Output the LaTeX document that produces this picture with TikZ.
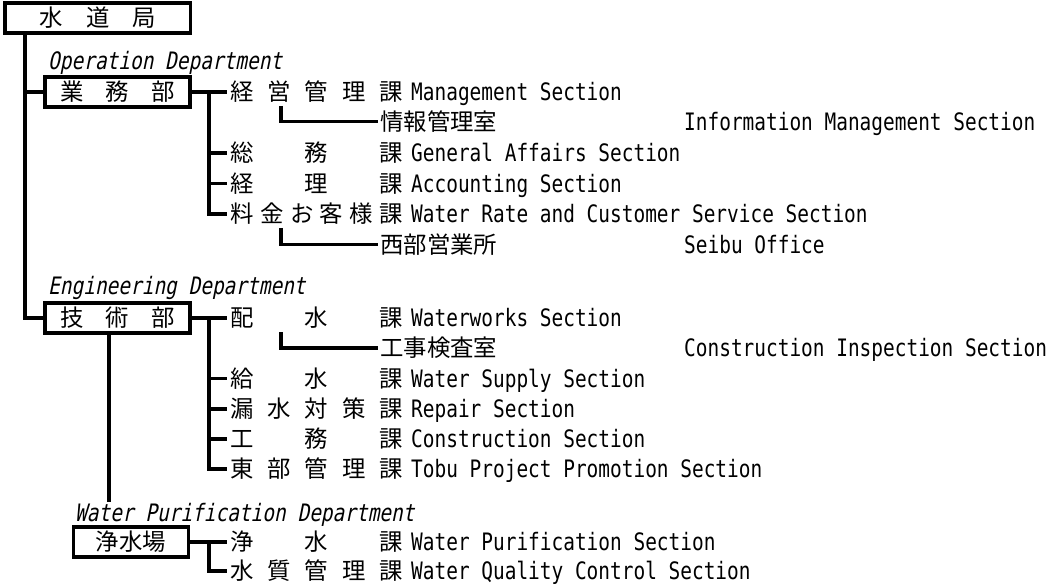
\documentclass[tikz,border=0pt]{standalone}
\usepackage{fontspec}
\newfontfamily\jpfont{Noto Sans CJK JP}
\newfontfamily\enfont{DejaVu Sans Mono}[FakeStretch=0.81]
\newfontfamily\enslfont{DejaVu Sans Mono}[FakeStretch=0.81,FakeSlant=0.2]
\newcommand\jpf{\jpfont\fontsize{23.4pt}{28pt}\selectfont}
\newcommand\enf{\enfont\fontsize{24pt}{28pt}\selectfont}
\newcommand\slf{\enslfont\fontsize{24pt}{28pt}\selectfont}
\newcommand\spread[2]{\makebox[#1][s]{#2}}
\tikzset{
	link/.style={line width=3.2pt},
	deptbox/.style={draw,line width=3.2pt,minimum height=30pt,inner sep=0pt,font=\jpf,text height=20.6pt,text depth=2.8pt},
	sect/.style={anchor=west,inner xsep=3pt,inner ysep=0pt,font=\jpf,text height=20.6pt,text depth=2.8pt},
	engl/.style={anchor=west,inner sep=0pt,font=\enf,text height=20.6pt,text depth=2.8pt},
	dept/.style={anchor=west,inner sep=0pt,font=\slf,text height=20.6pt,text depth=2.8pt},
}
\begin{document}
\begin{tikzpicture}[x=1pt,y=-1pt]
			\useasboundingbox (0,0) rectangle (1053,588);
			% boxes
			\node[deptbox,minimum width=185.5pt] (kyoku) at (97.75,18) {\spread{117pt}{水\hfill 道\hfill 局}};
			\node[deptbox,minimum width=145pt] (gyomu) at (117.5,92) {\spread{115pt}{業\hfill 務\hfill 部}};
			\node[deptbox,minimum width=145pt] (gijutsu) at (117.5,318) {\spread{115pt}{技\hfill 術\hfill 部}};
			\node[deptbox,minimum width=115.5pt] (josuijo) at (131,542) {浄水場};
			% department labels
			\node[dept] (opdept) at (48,61) {Operation Department};
			\node[dept] (engdept) at (48,286) {Engineering Department};
			\node[dept] (wpdept) at (75,513) {Water Purification Department};
			% operation department
			\node[sect] (op1) at (227,92) {\spread{173pt}{経\hfill 営\hfill 管\hfill 理\hfill 課}};
			\node[engl] (op1e) at (411,92) {Management Section};
			\node[sect,inner xsep=2pt] (info) at (378,121.5) {情報管理室};
			\node[engl] (infoe) at (684,121.5) {Information Management Section};
			\node[sect] (op2) at (227,153) {\spread{173pt}{総\hfill 務\hfill 課}};
			\node[engl] (op2e) at (411,153) {General Affairs Section};
			\node[sect] (op3) at (227,183.5) {\spread{173pt}{経\hfill 理\hfill 課}};
			\node[engl] (op3e) at (411,183.5) {Accounting Section};
			\node[sect] (op4) at (227,214) {\spread{173pt}{料\hfill 金\hfill お\hfill 客\hfill 様\hfill 課}};
			\node[engl] (op4e) at (411,214) {Water Rate and Customer Service Section};
			\node[sect,inner xsep=2pt] (seibu) at (378,244.5) {西部営業所};
			\node[engl] (seibue) at (684,244.5) {Seibu Office};
			% engineering department
			\node[sect] (eng1) at (227,318) {\spread{173pt}{配\hfill 水\hfill 課}};
			\node[engl] (eng1e) at (411,318) {Waterworks Section};
			\node[sect,inner xsep=2pt] (koji) at (378,348) {工事検査室};
			\node[engl] (kojie) at (684,348) {Construction Inspection Section};
			\node[sect] (eng2) at (227,378.5) {\spread{173pt}{給\hfill 水\hfill 課}};
			\node[engl] (eng2e) at (411,378.5) {Water Supply Section};
			\node[sect] (eng3) at (227,409) {\spread{173pt}{漏\hfill 水\hfill 対\hfill 策\hfill 課}};
			\node[engl] (eng3e) at (411,409) {Repair Section};
			\node[sect] (eng4) at (227,439) {\spread{173pt}{工\hfill 務\hfill 課}};
			\node[engl] (eng4e) at (411,439) {Construction Section};
			\node[sect] (eng5) at (227,469) {\spread{173pt}{東\hfill 部\hfill 管\hfill 理\hfill 課}};
			\node[engl] (eng5e) at (411,469) {Tobu Project Promotion Section};
			% water purification
			\node[sect] (wp1) at (227,542) {\spread{173pt}{浄\hfill 水\hfill 課}};
			\node[engl] (wp1e) at (411,542) {Water Purification Section};
			\node[sect] (wp2) at (227,571) {\spread{173pt}{水\hfill 質\hfill 管\hfill 理\hfill 課}};
			\node[engl] (wp2e) at (411,571) {Water Quality Control Section};
			% connectors
			\coordinate (trunk) at (25,33);
			\draw[link] (trunk) |- (gyomu.west);
			\draw[link] (trunk) |- (gijutsu.west);
			\coordinate (opbus) at (209,92);
			\draw[link] (gyomu.east) -- (op1.west);
			\draw[link] (opbus) |- (op4.west);
			\draw[link] (opbus |- op2.west) -- (op2.west);
			\draw[link] (opbus |- op3.west) -- (op3.west);
			\coordinate (infotop) at (281,106);
			\draw[link] (infotop) |- (info.west);
			\coordinate (seibutop) at (281,228);
			\draw[link] (seibutop) |- (seibu.west);
			\coordinate (engbus) at (209,318);
			\draw[link] (gijutsu.east) -- (eng1.west);
			\draw[link] (engbus) |- (eng5.west);
			\draw[link] (engbus |- eng2.west) -- (eng2.west);
			\draw[link] (engbus |- eng3.west) -- (eng3.west);
			\draw[link] (engbus |- eng4.west) -- (eng4.west);
			\coordinate (kojitop) at (281,332);
			\draw[link] (kojitop) |- (koji.west);
			\coordinate (wpend) at (109,502);
			\draw[link] (gijutsu.south -| wpend) -- (wpend);
			\coordinate (wpbus) at (209,542);
			\draw[link] (josuijo.east) -- (wp1.west);
			\draw[link] (wpbus) |- (wp2.west);
\end{tikzpicture}
\end{document}
